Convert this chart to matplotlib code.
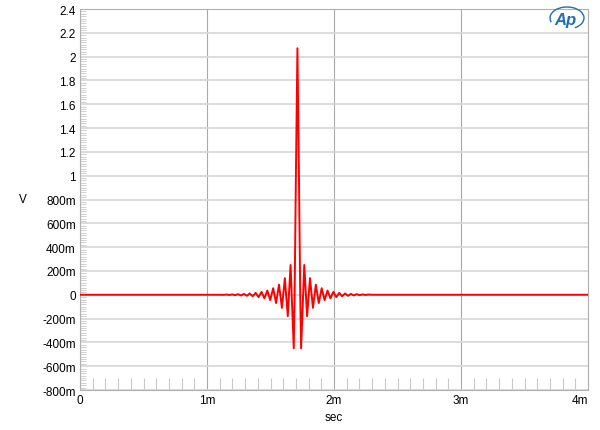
import matplotlib
matplotlib.use('Agg')
import matplotlib.pyplot as plt
from matplotlib.ticker import MultipleLocator
from matplotlib.patches import Arc

plt.rcParams['font.family'] = ['Liberation Sans', 'DejaVu Sans']

# impulse response (time in ms, level in V)
t_ms = [0.0, 1.10,
        1.130, 1.153, 1.176, 1.199, 1.222, 1.245, 1.268, 1.291, 1.314, 1.337,
        1.360, 1.383, 1.406, 1.429, 1.452, 1.475, 1.498, 1.521, 1.544, 1.567,
        1.590, 1.613, 1.636, 1.658, 1.683,
        1.690, 1.700, 1.712, 1.724, 1.734,
        1.741, 1.766, 1.788, 1.811, 1.834, 1.857, 1.880, 1.903, 1.926, 1.949,
        1.972, 1.995, 2.018, 2.041, 2.064, 2.087, 2.110, 2.133, 2.156, 2.179,
        2.202, 2.225, 2.248, 2.271, 2.30, 4.0]
volts = [0.0, 0.0,
         -0.001, 0.002, -0.002, 0.003, -0.004, 0.005, -0.006, 0.007, -0.009, 0.011,
         -0.013, 0.016, -0.020, 0.024, -0.030, 0.035, -0.045, 0.055, -0.070, 0.085,
         -0.110, 0.140, -0.180, 0.250, -0.450,
         0.0, 1.0, 2.07, 1.0, 0.0,
         -0.450, 0.250, -0.180, 0.140, -0.110, 0.085, -0.070, 0.055, -0.045, 0.035,
         -0.030, 0.024, -0.020, 0.016, -0.013, 0.011, -0.009, 0.007, -0.006, 0.005,
         -0.004, 0.003, -0.002, 0.002, 0.0, 0.0]

y_ticks = [-0.8, -0.6, -0.4, -0.2, 0, 0.2, 0.4, 0.6, 0.8, 1.0, 1.2, 1.4, 1.6, 1.8, 2.0, 2.2, 2.4]
y_labels = ['-800m', '-600m', '-400m', '-200m', '0', '200m', '400m', '600m', '800m',
            '1', '1.2', '1.4', '1.6', '1.8', '2', '2.2', '2.4']
x_ticks = [0, 1e-3, 2e-3, 3e-3, 4e-3]
x_labels = ['0', '1m', '2m', '3m', '4m']

fig = plt.figure(figsize=(6.0, 4.31), dpi=100)
ax = fig.add_axes([80/600, 1-391/431, 508/600, 381/431])

t_sec = [v * 1e-3 for v in t_ms]
ax.plot(t_sec, volts, color='#ff0000', lw=1.4, zorder=3)

ax.set_xlim(0, 4e-3)
ax.set_ylim(-0.8, 2.4)
ax.set_yticks(y_ticks)
ax.set_yticklabels(y_labels)
ax.set_xticks(x_ticks)
ax.set_xticklabels(x_labels)
ax.get_xticklabels()[-1].set_ha('right')
ax.yaxis.set_minor_locator(MultipleLocator(0.02))
ax.xaxis.set_minor_locator(MultipleLocator(0.1e-3))

ax.tick_params(axis='both', which='major', length=0, labelsize=8.5, pad=3)
ax.tick_params(axis='y', which='minor', direction='in', length=4, color='#d0d0d0', width=0.7)
ax.tick_params(axis='x', which='minor', direction='in', length=9, color='#c8c8c8', width=0.8)

ax.grid(axis='y', which='major', color='#d6d6d6', lw=1.2)
ax.grid(axis='x', which='major', color='#a8a8a8', lw=0.8)
ax.set_axisbelow(True)
for s in ax.spines.values():
    s.set_color('#b0b0b0')
    s.set_linewidth(0.8)

fig.text(23/600, 1-200/431, 'V', fontsize=8.5, ha='center', va='center')
fig.text(334/600, 1-418/431, 'sec', fontsize=8.5, ha='center', va='center')

# Ap logo
fig.text(565/600, 1-20/431, 'Ap', color='#1f6fb4', fontsize=12, fontweight='bold',
         style='italic', ha='center', va='center')
fig.add_artist(Arc((567/600, 1-19/431), 34/600, 22/431, theta1=-60, theta2=200,
                   transform=fig.transFigure, color='#1f6fb4', lw=1.0))

fig.savefig('out.png', dpi=100)
